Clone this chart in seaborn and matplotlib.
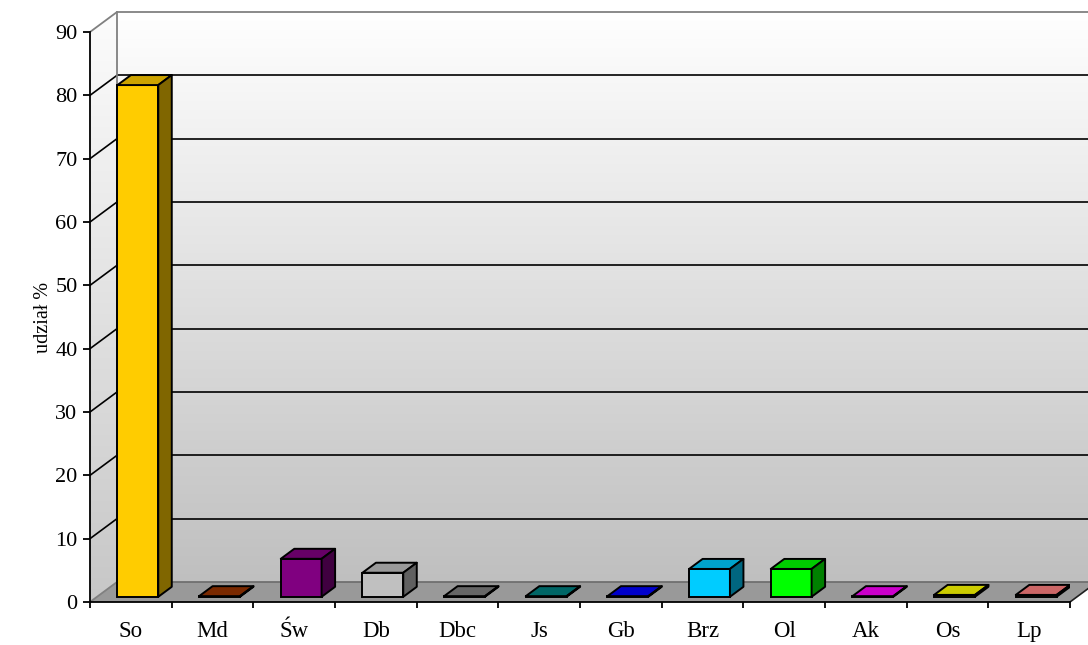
import numpy as np
import pandas as pd
import matplotlib
matplotlib.use("Agg")
import matplotlib.pyplot as plt
import seaborn as sns
from matplotlib.patches import Polygon
from matplotlib.colors import to_rgb
from matplotlib.ticker import FixedLocator

# Species share data
categories = ["So", "Md", "Św", "Db", "Dbc", "Js", "Gb", "Brz", "Ol", "Ak", "Os", "Lp"]
shares = [80.8, 0.1, 6.0, 3.8, 0.1, 0.1, 0.1, 4.4, 4.4, 0.1, 0.3, 0.3]
bar_colors = ["#FFCC00", "#993300", "#800080", "#C0C0C0", "#808080", "#008080",
              "#0000FF", "#00CCFF", "#00FF00", "#FF00FF", "#FFFF00", "#FF8080"]
y_ticks = list(range(0, 100, 10))
y_label = "udział %"

sns.set_theme(style="white")
plt.rcParams["font.family"] = ["Liberation Serif", "DejaVu Serif"]

W, H = 1088, 645
fig = plt.figure(figsize=(W / 100, H / 100), dpi=100)
fig.patch.set_facecolor("white")
ax = fig.add_axes([90 / W, 43 / H, 980 / W, 570 / H])
ax.set_facecolor("none")

n = len(categories)
YMAX = 90
# depth of the 3-D box in data units (27 px right, 20 px up)
DX = 27 / (980 / n)
DY = 20 / (570 / YMAX)
# front / back depth fraction of the bars inside the box
F0, F1 = 0.26, 0.76
XL, XR = -0.5, n - 0.5

df = pd.DataFrame({"gatunek": categories, "udzial": shares})
sns.barplot(data=df, x="gatunek", y="udzial", hue="gatunek", palette=bar_colors,
            width=0.5, dodge=False, legend=False, saturation=1,
            edgecolor="black", linewidth=1.4, ax=ax, zorder=4)
bars = list(ax.patches)


def gradient(verts, x0, x1, y0, y1, top, bottom, z):
    clip = Polygon(verts, closed=True, transform=ax.transData)
    g = np.linspace(bottom, top, 256)
    img = np.dstack([g, g, g]).reshape(256, 1, 3)
    im = ax.imshow(img, extent=[x0, x1, y0, y1], origin="lower",
                   aspect="auto", interpolation="bilinear", zorder=z)
    im.set_clip_path(clip)
    im.set_clip_box(fig.bbox)


# back wall
back = [(XL + DX, DY), (XR + DX, DY), (XR + DX, YMAX + DY), (XL + DX, YMAX + DY)]
gradient(back, XL + DX, XR + DX, DY, YMAX + DY, 1.0, 0.75, 0)
# side wall
side = [(XL, 0), (XL + DX, DY), (XL + DX, YMAX + DY), (XL, YMAX)]
gradient(side, XL, XL + DX, 0, YMAX + DY, 0.99, 0.78, 0)
# floor
floor = [(XL, 0), (XR, 0), (XR + DX, DY), (XL + DX, DY)]
ax.add_patch(Polygon(floor, closed=True, facecolor="#999999", edgecolor="none",
                     zorder=1, clip_on=False))

# gridlines on back and side wall
for v in y_ticks[1:-1]:
    ax.plot([XL + DX, XR + DX], [v + DY, v + DY], color="black", lw=1.2,
            zorder=2, clip_on=False, solid_capstyle="butt")
    ax.plot([XL, XL + DX], [v, v + DY], color="black", lw=1.2,
            zorder=2, clip_on=False)

# box edges
edge = dict(color="#808080", lw=1.3, zorder=2, clip_on=False)
ax.plot([XL + DX, XR + DX], [YMAX + DY, YMAX + DY], **edge)
ax.plot([XL, XL + DX], [YMAX, YMAX + DY], **edge)
ax.plot([XL + DX, XL + DX], [DY, YMAX + DY], **edge)
ax.plot([XL + DX, XR + DX], [DY, DY], color="#707070", lw=1.3, zorder=2, clip_on=False)
ax.plot([XL, XL + DX], [0, DY], **edge)
ax.plot([XR, XR + DX], [0, DY], color="#202020", lw=1.2, zorder=2, clip_on=False)


def shade(c, k):
    r, g, b = to_rgb(c)
    return (r * k, g * k, b * k)


# turn the flat bars into boxes
for p in bars:
    idx = int(round(p.get_x() + p.get_width() / 2))
    v = p.get_height()
    x0 = p.get_x() + F0 * DX
    y0 = F0 * DY
    p.set_x(x0)
    p.set_y(y0)
    x1 = x0 + p.get_width()
    y1 = y0 + v
    ddx, ddy = (F1 - F0) * DX, (F1 - F0) * DY
    col = bar_colors[idx]
    top = [(x0, y1), (x1, y1), (x1 + ddx, y1 + ddy), (x0 + ddx, y1 + ddy)]
    rside = [(x1, y0), (x1 + ddx, y0 + ddy), (x1 + ddx, y1 + ddy), (x1, y1)]
    ax.add_patch(Polygon(top, closed=True, facecolor=shade(col, 0.8),
                         edgecolor="black", lw=1.4, zorder=4, joinstyle="round"))
    ax.add_patch(Polygon(rside, closed=True, facecolor=shade(col, 0.5),
                         edgecolor="black", lw=1.4, zorder=4, joinstyle="round"))

# axes
ax.set_xlim(XL, XR)
ax.set_ylim(0, YMAX)
for s in ["top", "right"]:
    ax.spines[s].set_visible(False)
for s in ["left", "bottom"]:
    ax.spines[s].set_color("black")
    ax.spines[s].set_linewidth(1.3)
    ax.spines[s].set_zorder(5)

ax.set_yticks(y_ticks)
ax.set_yticklabels([str(t) for t in y_ticks])
ax.tick_params(axis="y", which="major", left=True, length=5, width=1.3,
               color="black", pad=4, labelsize=16, labelcolor="black")
ax.set_xticks(range(n))
ax.set_xticklabels(categories)
ax.xaxis.set_minor_locator(FixedLocator(np.arange(XL, XR + 0.01, 1.0)))
ax.tick_params(axis="x", which="major", bottom=True, length=0, pad=14,
               labelsize=16.5, labelcolor="black")
ax.tick_params(axis="x", which="minor", bottom=True, length=4.5, width=1.3,
               color="black")
ax.set_xlabel("")
ax.set_ylabel(y_label, fontsize=14.5, color="black", labelpad=1.5)
ax.grid(False)

fig.savefig("out.png", dpi=100)
